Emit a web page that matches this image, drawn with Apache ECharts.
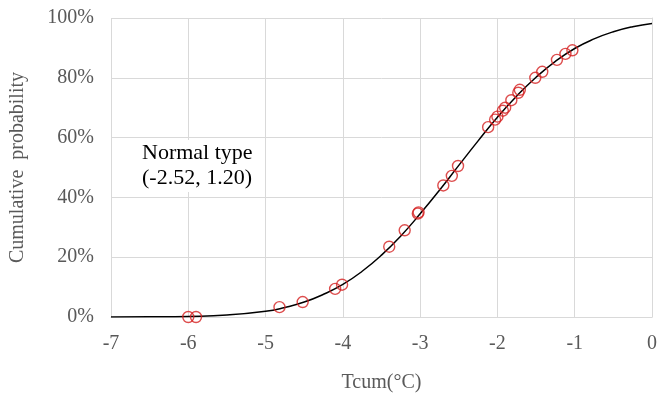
<!DOCTYPE html>
<html>
<head>
<meta charset="utf-8">
<script src="https://cdn.jsdelivr.net/npm/echarts@6/dist/echarts.min.js"></script>
<style>
    html, body { margin: 0; padding: 0; background: #fff; }
    #chart { width: 661px; height: 402px; }
</style>
</head>
<body>
<div id="chart"></div>
<script>
    // fitted curve (x in °C, y in %)
    let curveX = [-7, -6.5, -6, -5.5, -5, -4.75, -4.5, -4.25, -4, -3.75, -3.5, -3.25, -3, -2.75, -2.5, -2.25, -2, -1.75, -1.5, -1.25, -1, -0.75, -0.5, -0.25, 0];
    let curveY = [0, 0.05, 0.2, 0.65, 1.9, 3.2, 5.0, 7.6, 10.9, 15.3, 20.7, 27.1, 34.5, 42.4, 50.7, 58.9, 66.8, 73.9, 80.2, 85.5, 89.8, 93.0, 95.4, 97.1, 98.2];

    // observed points
    let obsX = [-6.0, -5.9, -4.82, -4.52, -4.1, -4.01, -3.4, -3.2, -3.03, -3.02, -2.7, -2.59, -2.51, -2.12, -2.03, -2.0, -1.93, -1.9, -1.82, -1.73, -1.71, -1.51, -1.42, -1.23, -1.12, -1.03];
    let obsY = [0, 0, 3.3, 5.0, 9.4, 10.8, 23.5, 29, 34.6, 35, 44, 47.2, 50.5, 63.5, 66, 67, 69, 70, 72.5, 75, 76, 80, 82, 86, 88, 89.2];

    let xTicks = [-7, -6, -5, -4, -3, -2, -1, 0];
    let yTicks = [0, 20, 40, 60, 80, 100];

    let font = '"Liberation Serif", "DejaVu Serif", serif';
    let chart = echarts.init(document.getElementById('chart'));

    let option = {
        backgroundColor: '#fff',
        animation: false,
        grid: { left: 111, right: 9, top: 18, bottom: 85, outerBoundsMode: 'none' },
        xAxis: {
            type: 'value',
            min: xTicks[0],
            max: xTicks[xTicks.length - 1],
            interval: 1,
            name: 'Tcum(°C)',
            nameLocation: 'middle',
            nameGap: 56,
            nameTextStyle: { fontFamily: font, fontSize: 20, color: '#595959' },
            axisLine: { show: true, lineStyle: { color: '#d9d9d9' } },
            axisTick: { show: false },
            axisLabel: { fontFamily: font, fontSize: 20, color: '#595959', margin: 17 },
            splitLine: { show: true, lineStyle: { color: '#d9d9d9', width: 1 } }
        },
        yAxis: {
            type: 'value',
            min: yTicks[0],
            max: yTicks[yTicks.length - 1],
            interval: 20,
            name: 'Cumulative  probability',
            nameLocation: 'middle',
            nameGap: 83,
            nameRotate: 90,
            nameTextStyle: { fontFamily: font, fontSize: 20, color: '#595959' },
            axisLine: { show: true, lineStyle: { color: '#d9d9d9' } },
            axisTick: { show: false },
            axisLabel: { fontFamily: font, fontSize: 20, color: '#595959', margin: 17, formatter: '{value}%' },
            splitLine: { show: true, lineStyle: { color: '#d9d9d9', width: 1 } }
        },
        graphic: [
            {
                type: 'text',
                left: 139,
                top: 140,
                z: 10,
                style: {
                    text: 'Normal type\n(-2.52, 1.20)',
                    font: '22px ' + font,
                    fill: '#000',
                    lineHeight: 25,
                    backgroundColor: '#fff',
                    padding: [1, 3, 1, 3]
                }
            }
        ],
        series: [
            {
                type: 'line',
                data: curveX.map((x, i) => [x, curveY[i]]),
                smooth: true,
                showSymbol: false,
                lineStyle: { color: '#000', width: 1.5 },
                z: 2
            },
            {
                type: 'scatter',
                data: obsX.map((x, i) => [x, obsY[i]]),
                symbol: 'circle',
                symbolSize: 11,
                itemStyle: { color: 'rgba(0,0,0,0)', borderColor: '#d42020', borderWidth: 1.4 },
                z: 3
            }
        ]
    };

    chart.setOption(option);
</script>
</body>
</html>
